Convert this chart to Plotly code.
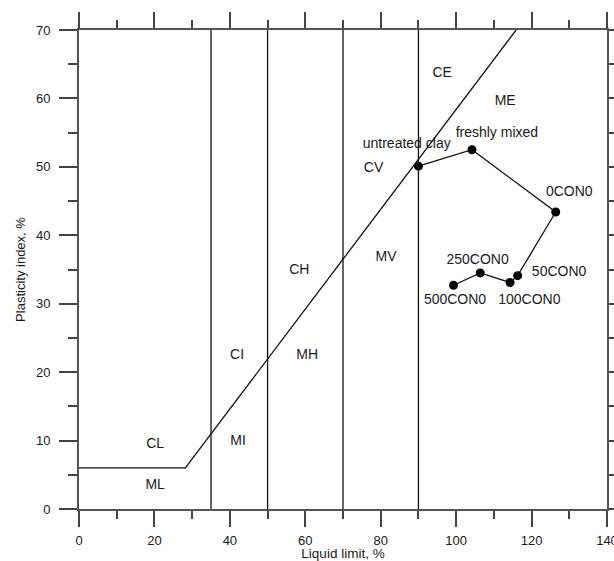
import plotly.graph_objects as go

# A-line and U boundaries
a_line_x = [0, 28.2, 115.9]
a_line_y = [6, 6, 70]
ll_bounds = [35, 50, 70, 90]
y_top = 70

# sample path
sample_names = ["untreated clay", "freshly mixed", "0CON0", "50CON0", "100CON0", "250CON0", "500CON0"]
sample_ll = [90, 104.2, 126.4, 116.3, 114.3, 106.4, 99.3]
sample_pi = [50.1, 52.5, 43.4, 34.1, 33.1, 34.5, 32.7]
label_x = [86.9, 110.8, 130.0, 127.3, 119.4, 105.7, 99.7]
label_y = [53.3, 54.9, 46.3, 34.5, 30.4, 36.3, 30.4]

# zone labels
zone_names = ["CE", "ME", "CV", "MV", "CH", "MH", "CI", "MI", "CL", "ML"]
zone_x = [96.3, 113.0, 78.1, 81.4, 58.4, 60.5, 41.9, 42.2, 20.2, 20.2]
zone_y = [63.6, 59.5, 49.7, 36.7, 34.9, 22.4, 22.5, 9.9, 9.4, 3.5]

FONT = "Liberation Sans, Arial, sans-serif"
TXT = "#1a1a1a"

fig = go.Figure()

fig.add_trace(go.Scatter(x=a_line_x, y=a_line_y, mode="lines",
                         line=dict(color="#111", width=1.3), hoverinfo="skip"))
vx, vy = [], []
for b in ll_bounds:
    vx += [b, b, None]
    vy += [0, y_top, None]
fig.add_trace(go.Scatter(x=vx, y=vy, mode="lines",
                         line=dict(color="#111", width=1.3), hoverinfo="skip"))

fig.add_trace(go.Scatter(x=sample_ll, y=sample_pi, mode="lines+markers",
                         line=dict(color="#111", width=1.3),
                         marker=dict(color="#000", size=9)))

fig.add_trace(go.Scatter(x=label_x, y=label_y, mode="text", text=sample_names,
                         textfont=dict(family=FONT, size=14, color=TXT)))
fig.add_trace(go.Scatter(x=zone_x, y=zone_y, mode="text", text=zone_names,
                         textfont=dict(family=FONT, size=14, color=TXT)))

axis_common = dict(showline=True, linecolor="#555", linewidth=2, mirror="ticks",
                   ticks="outside", tickcolor="#444", tickwidth=1.6,
                   showgrid=False, zeroline=False, ticklabeloverflow="allow",
                   tickfont=dict(family=FONT, size=13, color=TXT))

fig.update_xaxes(range=[0, 140], dtick=20, tick0=0, ticklen=16,
                 minor=dict(dtick=10, ticks="outside", ticklen=8, tickcolor="#444", tickwidth=1.6),
                 ticklabelstandoff=2,
                 title=dict(text="Liquid limit, %", font=dict(family=FONT, size=13.5, color=TXT), standoff=3),
                 **axis_common)
fig.update_yaxes(range=[0, 70], dtick=10, tick0=0, ticklen=18,
                 minor=dict(dtick=5, ticks="outside", ticklen=9, tickcolor="#444", tickwidth=1.6),
                 ticklabelstandoff=6,
                 title=dict(text="Plasticity index, %", font=dict(family=FONT, size=13, color=TXT), standoff=7),
                 **axis_common)

fig.update_layout(width=614, height=561, showlegend=False,
                  margin=dict(l=79, r=7, t=30, b=52, autoexpand=False),
                  plot_bgcolor="white", paper_bgcolor="white")
fig.update_xaxes(automargin=False)
fig.update_yaxes(automargin=False)

fig.write_html("out.html", config={"displayModeBar": False},
               post_script="document.body.style.margin='0';")
